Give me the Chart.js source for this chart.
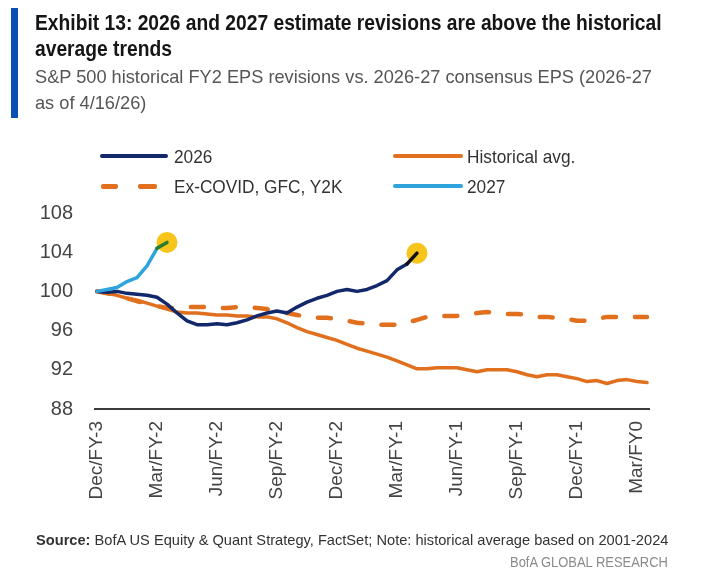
<!DOCTYPE html>
<html>
<head>
<meta charset="utf-8">
<script src="https://cdn.jsdelivr.net/npm/chart.js@4.4.1/dist/chart.umd.min.js"></script>
<style>
  html, body { margin: 0; padding: 0; background: #fff; }
  body { width: 711px; height: 583px; position: relative; overflow: hidden; font-family: "Liberation Sans", Arial, sans-serif; }
  #chart { position: absolute; left: 0; top: 0; }
  .txt { position: absolute; white-space: nowrap; transform-origin: 0 0; line-height: 1; }
  #bar { position: absolute; left: 11px; top: 8px; width: 7px; height: 110px; background: #0b4fb5; }
  .t { font-weight: bold; font-size: 22px; color: #151515; }
  .s { font-size: 19px; color: #555; }
  .lg { font-size: 19px; color: #333; }
  .ft { font-size: 15px; color: #333; }
  .brand { font-size: 15px; color: #8a8a8a; }
  .sw { position: absolute; height: 4px; border-radius: 2px; }
</style>
</head>
<body>
<canvas id="chart" width="711" height="583"></canvas>

<div id="bar"></div>
<div class="txt t" id="t1" style="left:35px;top:12px">Exhibit 13: 2026 and 2027 estimate revisions are above the historical</div>
<div class="txt t" id="t2" style="left:35px;top:38px">average trends</div>
<div class="txt s" id="s1" style="left:35px;top:67px">S&amp;P 500 historical FY2 EPS revisions vs. 2026-27 consensus EPS (2026-27</div>
<div class="txt s" id="s2" style="left:35px;top:93px">as of 4/16/26)</div>

<!-- legend -->
<div class="sw" id="sw2026" style="left:100px;top:154px;width:68px"></div>
<div class="txt lg" id="l2026" style="left:174px;top:147px">2026</div>
<div class="sw" id="swHist" style="left:393px;top:154px;width:70px"></div>
<div class="txt lg" id="lHist" style="left:467px;top:147px">Historical avg.</div>
<div class="sw" id="swEx1" style="left:101px;top:184px;width:17px;height:5px"></div>
<div class="sw" id="swEx2" style="left:138px;top:184px;width:19px;height:5px"></div>
<div class="txt lg" id="lEx" style="left:174px;top:177px">Ex-COVID, GFC, Y2K</div>
<div class="sw" id="sw2027" style="left:393px;top:184px;width:70px"></div>
<div class="txt lg" id="l2027" style="left:467px;top:177px">2027</div>

<div class="txt ft" id="foot" style="left:36px;top:532px"><b>Source:</b> BofA US Equity &amp; Quant Strategy, FactSet; Note: historical average based on 2001-2024</div>
<div class="txt brand" id="brand" style="left:510px;top:554px">BofA GLOBAL RESEARCH</div>

<script>
// ---- data (one value every half month, starting at Dec/FY-3) ----
const MONTH_STEP = 0.5;

const tickLabels = ["Dec/FY-3", "Mar/FY-2", "Jun/FY-2", "Sep/FY-2", "Dec/FY-2",
                    "Mar/FY-1", "Jun/FY-1", "Sep/FY-1", "Dec/FY-1", "Mar/FY0"];
const tickMonths = [0, 3, 6, 9, 12, 15, 18, 21, 24, 27];
const yTicks = [88, 92, 96, 100, 104, 108];

const histAvg = [
  100.0, 99.8, 99.6, 99.3, 99.1, 98.8, 98.5, 98.2, 97.9, 97.8,
  97.8, 97.7, 97.6, 97.6, 97.5, 97.5, 97.4, 97.4, 97.2, 96.8,
  96.3, 95.9, 95.6, 95.3, 95.0, 94.6, 94.2, 93.9, 93.6, 93.3,
  92.9, 92.5, 92.1, 92.1, 92.2, 92.2, 92.2, 92.0, 91.8, 92.0,
  92.0, 92.0, 91.8, 91.5, 91.3, 91.5, 91.5, 91.3, 91.1, 90.8,
  90.9, 90.6, 90.9, 91.0, 90.8, 90.7
];

const exCovid = [
  100.0, 99.8, 99.6, 99.3, 99.0, 98.8, 98.5, 98.3, 98.3, 98.4,
  98.4, 98.4, 98.3, 98.3, 98.4, 98.4, 98.3, 98.2, 98.0, 97.8,
  97.6, 97.4, 97.3, 97.3, 97.2, 97.0, 96.8, 96.7, 96.6, 96.6,
  96.6, 96.8, 97.1, 97.4, 97.5, 97.5, 97.5, 97.6, 97.8, 97.9,
  97.8, 97.7, 97.7, 97.6, 97.4, 97.4, 97.3, 97.2, 97.0, 97.0,
  97.2, 97.4, 97.4, 97.3, 97.4, 97.4
];

const est2026 = [
  100.0, 99.9, 100.0, 99.8, 99.7, 99.6, 99.4, 98.7, 97.8, 97.0,
  96.6, 96.6, 96.7, 96.6, 96.8, 97.1, 97.5, 97.8, 98.0, 97.8,
  98.4, 98.9, 99.3, 99.6, 100.0, 100.2, 100.0, 100.2, 100.6, 101.1,
  102.2, 102.8, 103.9
];

const est2027 = [100.0, 100.2, 100.4, 101.0, 101.4, 102.6, 104.4, 105.0];

// ---- colours ----
const NAVY = "#13286b";
const ORANGE = "#e0701e";
const SKY = "#2ea3dc";
const YELLOW = "#f6c41a";

function toPoints(arr) {
  return arr.map((v, i) => ({ x: i * MONTH_STEP, y: v }));
}
function lastPoint(arr) {
  return { x: (arr.length - 1) * MONTH_STEP, y: arr[arr.length - 1] };
}
function tip(arr, tipColor, color) {
  return c => c.p1DataIndex === arr.length - 1 ? tipColor : color;
}

new Chart(document.getElementById("chart"), {
  type: "line",
  data: {
    datasets: [
      {
        label: "2027",
        data: toPoints(est2027),
        borderColor: SKY,
        segment: { borderColor: tip(est2027, "#2b7a2e", SKY) },
        borderWidth: 3.5,
        order: 0
      },
      {
        label: "2026",
        data: toPoints(est2026),
        borderColor: NAVY,
        segment: { borderColor: tip(est2026, "#111", NAVY) },
        borderWidth: 3.5,
        order: 1
      },
      {
        label: "Historical avg.",
        data: toPoints(histAvg),
        borderColor: ORANGE,
        borderWidth: 3.5,
        order: 2
      },
      {
        label: "Ex-COVID, GFC, Y2K",
        data: toPoints(exCovid),
        borderColor: ORANGE,
        borderDash: [13, 19],
        borderCapStyle: "round",
        borderWidth: 4.5,
        order: 3
      },
      {
        label: "latest",
        data: [lastPoint(est2027), lastPoint(est2026)],
        showLine: false,
        pointRadius: 10.5,
        pointBackgroundColor: YELLOW,
        pointBorderWidth: 0,
        order: 10
      }
    ]
  },
  options: {
    responsive: false,
    animation: false,
    elements: {
      line: { tension: 0, borderJoinStyle: "round", borderCapStyle: "round" },
      point: { radius: 0 }
    },
    layout: { padding: { top: 213, right: 62, bottom: 0, left: 0 } },
    plugins: { legend: { display: false }, tooltip: { enabled: false } },
    scales: {
      x: {
        type: "linear",
        min: -0.1,
        max: 27.6,
        afterBuildTicks: s => { s.ticks = tickMonths.map(v => ({ value: v })); },
        afterFit: s => { s.height = 174; },
        grid: { display: false },
        border: { display: true, color: "#3a3a3a", width: 2 },
        ticks: {
          autoSkip: false,
          minRotation: 90,
          maxRotation: 90,
          padding: 4,
          color: "#444",
          font: { family: "Liberation Sans", size: 19 },
          callback: (v, i) => tickLabels[i]
        }
      },
      y: {
        min: 88,
        max: 108,
        afterBuildTicks: s => { s.ticks = yTicks.map(v => ({ value: v })); },
        afterFit: s => { s.width = 95; },
        grid: { display: false },
        border: { display: false },
        ticks: {
          padding: 14,
          color: "#444",
          font: { family: "Liberation Sans", size: 20 }
        }
      }
    }
  }
});

// ---- legend swatches use the series colours ----
document.getElementById("sw2026").style.background = NAVY;
document.getElementById("swHist").style.background = ORANGE;
document.getElementById("swEx1").style.background = ORANGE;
document.getElementById("swEx2").style.background = ORANGE;
document.getElementById("sw2027").style.background = SKY;

// ---- squeeze text to the condensed look of the original ----
function fit(id, w) {
  const el = document.getElementById(id);
  const k = w / el.scrollWidth;
  el.style.transform = `scaleX(${k})`;
  return k;
}
function squeeze(id, k) {
  document.getElementById(id).style.transform = `scaleX(${k})`;
}

const kt = fit("t1", 627);
squeeze("t2", kt);
const ks = fit("s1", 617);
squeeze("s2", ks);
const kl = fit("lEx", 168);
["l2026", "lHist", "l2027"].forEach(id => squeeze(id, kl));
fit("foot", 632);
fit("brand", 158);
</script>
</body>
</html>
